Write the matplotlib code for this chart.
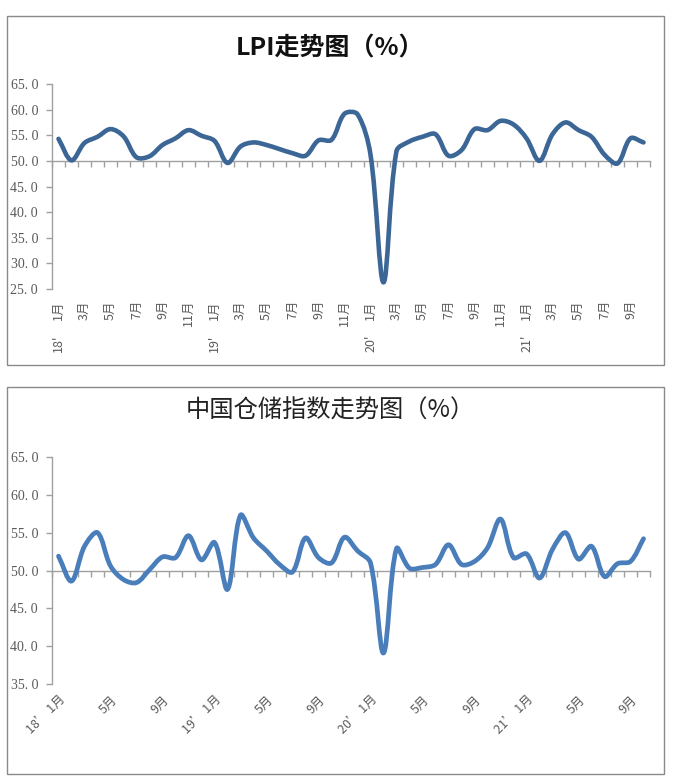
import numpy as np
import matplotlib
matplotlib.use('Agg')
import matplotlib.pyplot as plt
from matplotlib.path import Path
from matplotlib.patches import PathPatch, Rectangle

plt.rcParams['font.family'] = ['Noto Sans CJK SC', 'DejaVu Sans']

# ---------------- data ----------------
# monthly values, 2018-01 .. 2021-10
lpi_values = [
    54.3, 50.1, 53.5, 54.7, 56.2, 54.8, 50.7, 50.9, 53.1, 54.4, 56.0, 54.9,
    53.9, 49.6, 52.8, 53.6, 53.1, 52.3, 51.5, 51.0, 54.0, 54.1, 59.2, 59.1,
    51.2, 26.3, 51.9, 53.8, 54.7, 55.2, 51.0, 52.1, 56.2, 56.0, 57.8, 57.1,
    54.4, 50.0, 55.2, 57.5, 56.0, 54.7, 51.2, 49.5, 54.4, 53.6,
]
storage_values = [
    51.9, 48.6, 53.2, 55.0, 50.6, 48.8, 48.4, 50.1, 51.8, 51.7, 54.6, 51.4,
    53.7, 47.5, 57.3, 54.3, 52.6, 50.8, 49.8, 54.3, 51.7, 51.0, 54.4, 52.6,
    51.0, 39.1, 52.9, 50.3, 50.4, 50.8, 53.4, 50.8, 51.2, 53.0, 56.8, 51.7,
    52.2, 49.0, 52.8, 55.0, 51.5, 53.2, 49.2, 50.9, 51.2, 54.2,
]

top_title = 'LPI走势图（%）'
bottom_title = '中国仓储指数走势图（%）'

top_yticks = [25, 30, 35, 40, 45, 50, 55, 60, 65]
top_ytick_labels = ['25. 0', '30. 0', '35. 0', '40. 0', '45. 0', '50. 0', '55. 0', '60. 0', '65. 0']
bottom_yticks = [35, 40, 45, 50, 55, 60, 65]
bottom_ytick_labels = ['35. 0', '40. 0', '45. 0', '50. 0', '55. 0', '60. 0', '65. 0']

# top chart: month labels every 2 months, year labels on Januaries
top_month_pos = list(range(0, 46, 2))
top_month_labels = (['1月', '3月', '5月', '7月', '9月', '11月'] * 3
                    + ['1月', '3月', '5月', '7月', '9月'])
top_year_pos = [0, 12, 24, 36]
top_year_labels = ["18'", "19'", "20'", "21'"]

# bottom chart: labels every 4 months
bottom_label_pos = list(range(0, 46, 4))
bottom_labels = ['18’ 1月', '5月', '9月', '19’ 1月', '5月', '9月',
                 '20’ 1月', '5月', '9月', '21’ 1月', '5月', '9月']

# ---------------- helpers ----------------
W, H = 674, 782
GRAY_AX = '#a0a0a0'
GRAY_TXT = '#5a5a5a'


def smooth_path(ax, xs, ys):
    """Excel-like smoothed line: cubic Bezier with chord-length scaled handles
    (computed in display space), returned as a data-space Path."""
    data = np.column_stack([xs, ys]).astype(float)
    pts = ax.transData.transform(data)
    n = len(pts)
    verts = [pts[0]]
    codes = [Path.MOVETO]
    t = 1.0 / 3.0
    for i in range(n - 1):
        p0 = pts[i - 1] if i > 0 else pts[i]
        p1 = pts[i]
        p2 = pts[i + 1]
        p3 = pts[i + 2] if i + 2 < n else pts[i + 1]
        d01 = np.hypot(*(p1 - p0))
        d12 = np.hypot(*(p2 - p1))
        d23 = np.hypot(*(p3 - p2))
        s1 = d12 / (d01 + d12) if d01 + d12 > 0 else 0
        s2 = d12 / (d12 + d23) if d12 + d23 > 0 else 0
        c1 = p1 + t * (p2 - p0) * s1
        c2 = p2 - t * (p3 - p1) * s2
        verts += [c1, c2, p2]
        codes += [Path.CURVE4] * 3
    verts = ax.transData.inverted().transform(np.array(verts))
    return Path(verts, codes)


def make_axes(left, right, top, bottom):
    return fig.add_axes([left / W, 1 - bottom / H, (right - left) / W, (bottom - top) / H])


def style_axes(ax, yticks, ylabels, ymin, ymax, n):
    ax.set_xlim(0, n)
    ax.set_ylim(ymin, ymax)
    for s in ['top', 'right']:
        ax.spines[s].set_visible(False)
    ax.spines['left'].set_color(GRAY_AX)
    ax.spines['left'].set_linewidth(1.0)
    ax.spines['bottom'].set_position(('data', 50))
    ax.spines['bottom'].set_color(GRAY_AX)
    ax.spines['bottom'].set_linewidth(1.0)
    ax.set_xticks(np.arange(0, n + 1))
    ax.set_xticklabels([])
    ax.tick_params(axis='x', direction='out', length=4, width=1, color=GRAY_AX)
    ax.set_yticks(yticks)
    ax.set_yticklabels(ylabels, family=['Liberation Serif', 'DejaVu Serif'],
                       fontsize=10, color=GRAY_TXT)
    ax.tick_params(axis='y', direction='out', length=4, width=1, color=GRAY_AX, pad=6)
    ax.patch.set_alpha(0)


fig = plt.figure(figsize=(W / 100, H / 100), dpi=100)
fig.patch.set_facecolor('white')

# frames
fig.add_artist(Rectangle((7 / W, 1 - 365 / H), 657 / W, 349 / H, transform=fig.transFigure,
                         fill=False, edgecolor='#8a8a8a', lw=1.0))
fig.add_artist(Rectangle((7 / W, 1 - 774 / H), 657 / W, 387 / H, transform=fig.transFigure,
                         fill=False, edgecolor='#8a8a8a', lw=1.0))

n = len(lpi_values)
xc = np.arange(n) + 0.5

# ---------------- top chart ----------------
ax1 = make_axes(52, 650, 84, 289)
style_axes(ax1, top_yticks, top_ytick_labels, 25, 65, n)
ax1.add_patch(PathPatch(smooth_path(ax1, xc, lpi_values), fill=False, edgecolor='#3b6696',
                        lw=3.3, capstyle='round', joinstyle='round', zorder=3))
tr1 = ax1.get_xaxis_transform()
for p, lab in zip(top_month_pos, top_month_labels):
    ax1.text(p + 0.5, -11 / 205, lab, transform=tr1, rotation=90, ha='center', va='top',
             fontsize=9, color=GRAY_TXT)
for p, lab in zip(top_year_pos, top_year_labels):
    ax1.text(p + 0.5, -46 / 205, lab, transform=tr1, rotation=90, ha='center', va='top',
             fontsize=9, color=GRAY_TXT)
fig.text(330 / W, 1 - 49 / H, top_title, ha='center', va='center', fontsize=18,
         fontweight='bold', color='#111111')

# ---------------- bottom chart ----------------
ax2 = make_axes(52, 650, 457, 684)
style_axes(ax2, bottom_yticks, bottom_ytick_labels, 35, 65, n)
ax2.add_patch(PathPatch(smooth_path(ax2, xc, storage_values), fill=False, edgecolor='#4a7ebb',
                        lw=3.4, capstyle='round', joinstyle='round', zorder=3))
tr2 = ax2.get_xaxis_transform()
for p, lab in zip(bottom_label_pos, bottom_labels):
    ax2.text(p + 0.5, -9 / 227, lab, transform=tr2, rotation=45, ha='right', va='top',
             rotation_mode='anchor', fontsize=9, color=GRAY_TXT)
fig.text(330 / W, 1 - 411 / H, bottom_title, ha='center', va='center', fontsize=17.5,
         color='#222222')

fig.savefig('out.png', dpi=100)
